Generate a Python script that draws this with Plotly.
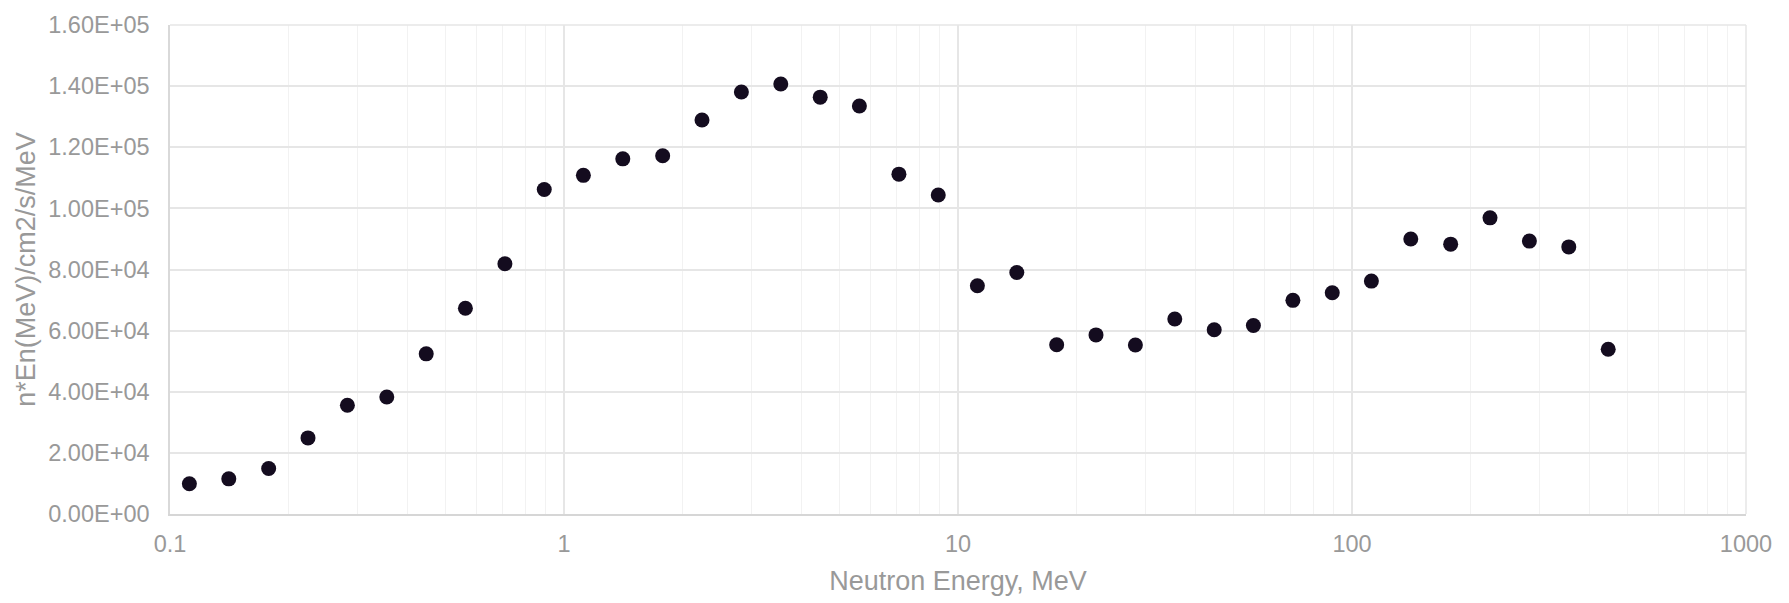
import plotly.graph_objects as go

energy_mev = [0.112, 0.141, 0.178, 0.224, 0.282, 0.355, 0.447, 0.562, 0.708, 0.891,
              1.12, 1.41, 1.78, 2.24, 2.82, 3.55, 4.47, 5.62, 7.08, 8.91,
              11.2, 14.1, 17.8, 22.4, 28.2, 35.5, 44.7, 56.2, 70.8, 89.1,
              112, 141, 178, 224, 282, 355, 447]
flux = [9900, 11500, 14900, 24900, 35600, 38300, 52400, 67300, 81900, 106200,
        110800, 116200, 117200, 128900, 138100, 140700, 136400, 133500, 111200, 104400,
        74700, 79000, 55400, 58600, 55300, 63800, 60300, 61700, 69900, 72400,
        76200, 90000, 88300, 96900, 89300, 87400, 53900]

x_tick_vals = [0.1, 1, 10, 100, 1000]
x_tick_text = ["0.1", "1", "10", "100", "1000"]
y_tick_vals = [0, 20000, 40000, 60000, 80000, 100000, 120000, 140000, 160000]
y_tick_text = ["0.00E+00", "2.00E+04", "4.00E+04", "6.00E+04", "8.00E+04",
               "1.00E+05", "1.20E+05", "1.40E+05", "1.60E+05"]

minor_vals = [m * d for d in [0.1, 1, 10, 100] for m in range(2, 10)]

fig = go.Figure()
fig.add_trace(go.Scatter(
    x=energy_mev, y=flux, mode="markers",
    marker=dict(color="#140c1f", size=15, line=dict(width=0)),
    showlegend=False, hoverinfo="skip",
))

font_family = "Liberation Sans, Arial, sans-serif"
fig.update_layout(
    width=1789, height=603,
    margin=dict(l=170, r=43, t=17, b=81),
    paper_bgcolor="white", plot_bgcolor="white",
    font=dict(family=font_family, color="#999999"),
    xaxis=dict(
        type="log", range=[-1, 3],
        tickvals=x_tick_vals, ticktext=x_tick_text,
        tickfont=dict(size=23.5, color="#999999"),
        showgrid=True, gridcolor="#e6e6e6", gridwidth=1.5,
        minor=dict(tickvals=minor_vals, showgrid=True, gridcolor="#f2f2f2", gridwidth=1),
        showline=True, linecolor="#d6d6d6", linewidth=2, mirror=False,
        zeroline=False, ticks="", ticklabelstandoff=8, ticklabeloverflow="allow",
        title=dict(text="Neutron Energy, MeV", font=dict(size=27, color="#999999"), standoff=15),
    ),
    yaxis=dict(
        range=[0, 160000],
        tickvals=y_tick_vals, ticktext=y_tick_text,
        tickfont=dict(size=23.5, color="#999999"),
        showgrid=True, gridcolor="#e6e6e6", gridwidth=1.5,
        showline=True, linecolor="#d9d9d9", linewidth=1.5,
        zeroline=False, ticks="", ticklabelstandoff=14, ticklabeloverflow="allow",
        title=dict(text="n*En(MeV)/cm2/s/MeV", font=dict(size=27, color="#999999"), standoff=5),
    ),
)
fig.add_shape(type="line", xref="paper", yref="paper", x0=1, x1=1, y0=0, y1=1,
              line=dict(color="#e6e6e6", width=1.5))
fig.add_shape(type="line", xref="paper", yref="paper", x0=0, x1=1, y0=1, y1=1,
              line=dict(color="#e6e6e6", width=1.5))

fig.write_html("out.html", config={"displayModeBar": False},
               post_script="document.body.style.margin='0';")
